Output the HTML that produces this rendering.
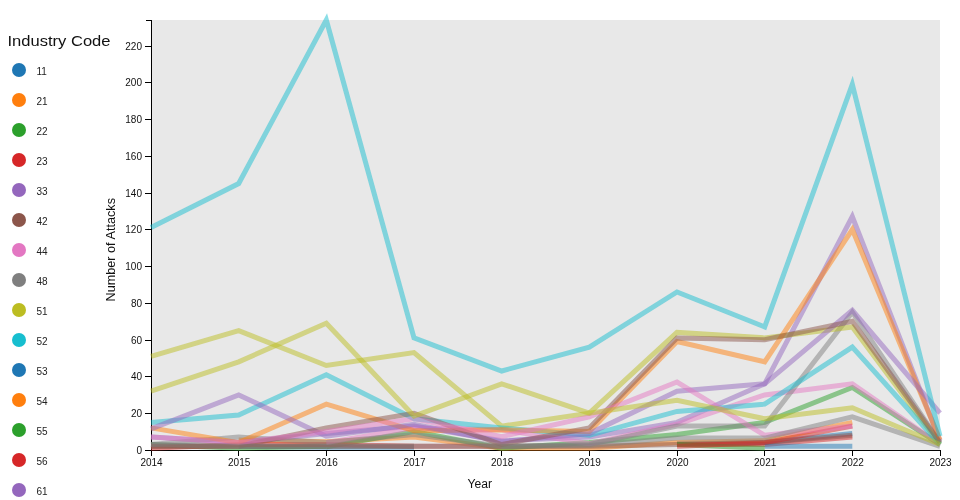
<!DOCTYPE html>
<html><head><meta charset="utf-8"><title>Attacks by Industry</title>
<style>
html,body{margin:0;padding:0;background:#fff;}
body{width:960px;height:500px;overflow:hidden;font-family:"Liberation Sans",sans-serif;}
svg{display:block;will-change:transform;font-family:"Liberation Sans",sans-serif;}
.ax line{stroke:#000;stroke-width:1;shape-rendering:crispEdges}
.ax text{font-size:10px;fill:#111}
.ln path{fill:none;stroke-width:5;stroke-opacity:0.5;stroke-linejoin:miter}
.lg text{font-size:10px;fill:#222}
</style></head><body>
<svg width="960" height="500" viewBox="0 0 960 500">
<rect x="151" y="20" width="789" height="430" fill="#e8e8e8"/>
<g class="ax">
<path d="M145.5,20.5H151.5V450.5H145.5" fill="none" stroke="#000" shape-rendering="crispEdges"/>
<path d="M151.5,456V450.5H940.5V456" fill="none" stroke="#000" shape-rendering="crispEdges"/>
<line x1="151.5" x2="151.5" y1="450" y2="456"/><line x1="238.5" x2="238.5" y1="450" y2="456"/><line x1="326.5" x2="326.5" y1="450" y2="456"/><line x1="414.5" x2="414.5" y1="450" y2="456"/><line x1="501.5" x2="501.5" y1="450" y2="456"/><line x1="589.5" x2="589.5" y1="450" y2="456"/><line x1="677.5" x2="677.5" y1="450" y2="456"/><line x1="764.5" x2="764.5" y1="450" y2="456"/><line x1="852.5" x2="852.5" y1="450" y2="456"/><line x1="940.5" x2="940.5" y1="450" y2="456"/><line x1="145" x2="151" y1="450.5" y2="450.5"/><line x1="145" x2="151" y1="413.5" y2="413.5"/><line x1="145" x2="151" y1="376.5" y2="376.5"/><line x1="145" x2="151" y1="340.5" y2="340.5"/><line x1="145" x2="151" y1="303.5" y2="303.5"/><line x1="145" x2="151" y1="266.5" y2="266.5"/><line x1="145" x2="151" y1="229.5" y2="229.5"/><line x1="145" x2="151" y1="193.5" y2="193.5"/><line x1="145" x2="151" y1="156.5" y2="156.5"/><line x1="145" x2="151" y1="119.5" y2="119.5"/><line x1="145" x2="151" y1="82.5" y2="82.5"/><line x1="145" x2="151" y1="46.5" y2="46.5"/><text x="151.5" y="466" text-anchor="middle">2014</text><text x="239.2" y="466" text-anchor="middle">2015</text><text x="326.8" y="466" text-anchor="middle">2016</text><text x="414.5" y="466" text-anchor="middle">2017</text><text x="502.2" y="466" text-anchor="middle">2018</text><text x="589.8" y="466" text-anchor="middle">2019</text><text x="677.5" y="466" text-anchor="middle">2020</text><text x="765.2" y="466" text-anchor="middle">2021</text><text x="852.8" y="466" text-anchor="middle">2022</text><text x="940.5" y="466" text-anchor="middle">2023</text><text x="142" y="453.9" text-anchor="end">0</text><text x="142" y="417.1" text-anchor="end">20</text><text x="142" y="380.4" text-anchor="end">40</text><text x="142" y="343.6" text-anchor="end">60</text><text x="142" y="306.9" text-anchor="end">80</text><text x="142" y="270.1" text-anchor="end">100</text><text x="142" y="233.4" text-anchor="end">120</text><text x="142" y="196.6" text-anchor="end">140</text><text x="142" y="159.9" text-anchor="end">160</text><text x="142" y="123.1" text-anchor="end">180</text><text x="142" y="86.4" text-anchor="end">200</text><text x="142" y="49.6" text-anchor="end">220</text>
<text x="0" y="0" textLength="103.5" lengthAdjust="spacingAndGlyphs" transform="translate(114.6 301.5) rotate(-90)" style="font-size:12px">Number of Attacks</text>
<text x="467.5" y="487.7" textLength="24.5" lengthAdjust="spacingAndGlyphs" style="font-size:12px">Year</text>
</g>
<g class="ln">
<path d="M238.7,446.3 L326.3,447.2 L414.0,447.2" stroke="#1f77b4"/>
<path d="M677.0,443.6 L764.7,442.6 L852.3,433.5" stroke="#1f77b4"/>
<path d="M151.0,444.5 L238.7,448.2 L326.3,446.3" stroke="#2ca02c"/>
<path d="M238.7,439.9 L326.3,441.7 L414.0,437.1 L501.7,448.2 L589.3,448.2 L677.0,442.6 L764.7,440.8 L852.3,422.4" stroke="#ff7f0e"/>
<path d="M326.3,446.9 L414.0,431.6 L501.7,448.2 L589.3,442.6 L677.0,434.4 L764.7,422.4 L852.3,387.5 L940.0,444.5" stroke="#2ca02c"/>
<path d="M151.0,448.2 L238.7,444.5 L326.3,444.5 L414.0,446.3 L501.7,446.3" stroke="#d62728"/>
<path d="M677.0,444.5 L764.7,444.5 L852.3,437.1" stroke="#d62728"/>
<path d="M151.0,437.1 L238.7,442.6 L326.3,433.5 L414.0,426.1 L501.7,440.8 L589.3,437.1 L677.0,422.4 L764.7,383.8 L852.3,216.6 L940.0,440.8" stroke="#9467bd"/>
<path d="M151.0,446.3 L238.7,446.3 L326.3,446.3 L414.0,446.3" stroke="#8c564b"/>
<path d="M501.7,446.3 L589.3,446.3 L677.0,444.5 L764.7,442.6 L852.3,435.3" stroke="#8c564b"/>
<path d="M326.3,442.6 L414.0,427.9 L501.7,429.8 L589.3,443.6 L677.0,424.3 L764.7,394.9 L852.3,383.8 L940.0,444.5" stroke="#e377c2"/>
<path d="M151.0,444.5 L238.7,437.1 L326.3,442.6 L414.0,434.4 L501.7,446.3 L589.3,444.5 L677.0,426.1 L764.7,426.1 L852.3,312.2 L940.0,442.6" stroke="#7f7f7f"/>
<path d="M151.0,356.3 L238.7,330.6 L326.3,365.5 L414.0,352.6 L501.7,426.1 L589.3,413.2 L677.0,332.4 L764.7,337.9 L852.3,326.9 L940.0,444.5" stroke="#bcbd22"/>
<path d="M151.0,422.4 L238.7,415.1 L326.3,374.7 L414.0,418.8 L501.7,427.9 L589.3,435.3 L677.0,411.4 L764.7,404.1 L852.3,347.1 L940.0,444.5" stroke="#17becf"/>
<path d="M764.7,446.3 L852.3,446.3" stroke="#1f77b4"/>
<path d="M151.0,427.9 L238.7,442.6 L326.3,404.1 L414.0,430.7 L501.7,429.8 L589.3,431.6 L677.0,341.6 L764.7,361.8 L852.3,229.5 L940.0,439.9" stroke="#ff7f0e"/>
<path d="M677.0,444.5 L764.7,448.2" stroke="#2ca02c"/>
<path d="M677.0,446.3 L764.7,442.6 L852.3,426.1" stroke="#d62728"/>
<path d="M151.0,428.9 L238.7,394.9 L326.3,436.2 L414.0,424.3 L501.7,441.7 L589.3,433.5 L677.0,391.2 L764.7,383.8 L852.3,310.3 L940.0,413.2" stroke="#9467bd"/>
<path d="M151.0,446.3 L238.7,446.3 L326.3,427.9 L414.0,413.2 L501.7,444.5 L589.3,427.9 L677.0,337.9 L764.7,339.7 L852.3,321.4 L940.0,442.6" stroke="#8c564b"/>
<path d="M151.0,437.1 L238.7,442.6 L326.3,431.6 L414.0,418.8 L501.7,436.6 L589.3,416.9 L677.0,382.0 L764.7,435.3 L852.3,426.1" stroke="#e377c2"/>
<path d="M151.0,444.5 L238.7,446.3 L326.3,446.3 L414.0,446.3 L501.7,446.3 L589.3,445.4 L677.0,438.1 L764.7,438.1 L852.3,416.9 L940.0,446.3" stroke="#7f7f7f"/>
<path d="M151.0,391.2 L238.7,361.8 L326.3,323.2 L414.0,416.0 L501.7,383.8 L589.3,413.2 L677.0,400.4 L764.7,418.8 L852.3,407.7 L940.0,444.5" stroke="#bcbd22"/>
<path d="M151.0,227.6 L238.7,183.5 L326.3,20.0 L414.0,337.9 L501.7,371.0 L589.3,347.1 L677.0,292.0 L764.7,326.9 L852.3,84.3 L940.0,436.2" stroke="#17becf"/>
</g>
<g class="lg">
<text x="7.5" y="46" textLength="103" lengthAdjust="spacingAndGlyphs" style="font-size:15px;fill:#111">Industry Code</text>
<circle cx="19" cy="70" r="7" fill="#1f77b4"/><text x="36.5" y="75.0">11</text><circle cx="19" cy="100" r="7" fill="#ff7f0e"/><text x="36.5" y="105.0">21</text><circle cx="19" cy="130" r="7" fill="#2ca02c"/><text x="36.5" y="135.0">22</text><circle cx="19" cy="160" r="7" fill="#d62728"/><text x="36.5" y="165.0">23</text><circle cx="19" cy="190" r="7" fill="#9467bd"/><text x="36.5" y="195.0">33</text><circle cx="19" cy="220" r="7" fill="#8c564b"/><text x="36.5" y="225.0">42</text><circle cx="19" cy="250" r="7" fill="#e377c2"/><text x="36.5" y="255.0">44</text><circle cx="19" cy="280" r="7" fill="#7f7f7f"/><text x="36.5" y="285.0">48</text><circle cx="19" cy="310" r="7" fill="#bcbd22"/><text x="36.5" y="315.0">51</text><circle cx="19" cy="340" r="7" fill="#17becf"/><text x="36.5" y="345.0">52</text><circle cx="19" cy="370" r="7" fill="#1f77b4"/><text x="36.5" y="375.0">53</text><circle cx="19" cy="400" r="7" fill="#ff7f0e"/><text x="36.5" y="405.0">54</text><circle cx="19" cy="430" r="7" fill="#2ca02c"/><text x="36.5" y="435.0">55</text><circle cx="19" cy="460" r="7" fill="#d62728"/><text x="36.5" y="465.0">56</text><circle cx="19" cy="490" r="7" fill="#9467bd"/><text x="36.5" y="495.0">61</text><circle cx="19" cy="520" r="7" fill="#8c564b"/><text x="36.5" y="525.0">62</text>
</g>
</svg>
</body></html>
